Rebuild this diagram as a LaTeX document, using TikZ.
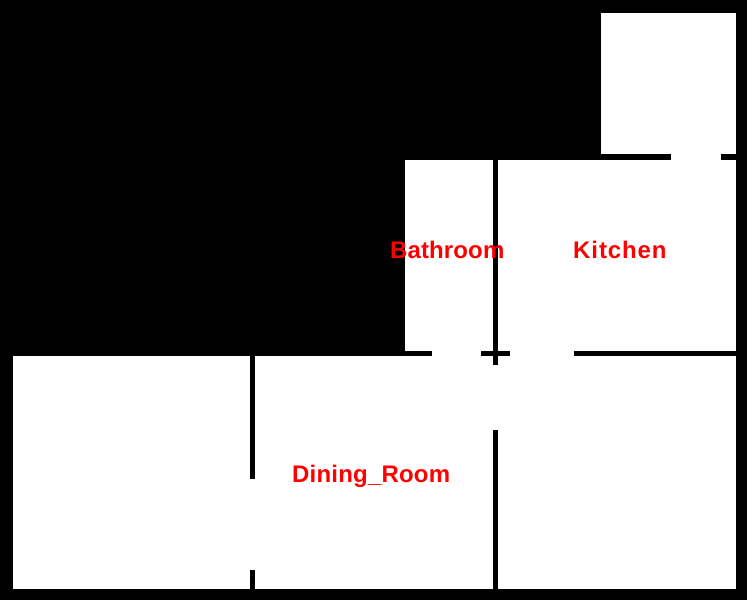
\documentclass[tikz,border=0pt]{standalone}
\usepackage{fontspec}
\setmainfont{Liberation Sans}
\definecolor{labelred}{RGB}{255,0,0}
\tikzset{
  room/.style={fill=white,draw=none},
  wall/.style={fill=black,draw=none},
  roomlabel/.style={text=labelred,inner sep=0pt,font=\fontsize{24}{24}\selectfont\bfseries,anchor=base west}
}
\begin{document}
\begin{tikzpicture}[x=1pt,y=-1pt]
\useasboundingbox (0,0) rectangle (747,600);
\fill[black] (0,0) rectangle (747,600);
% rooms
\path[room] (601,13) rectangle (736,154);
\path[room] (405,160) rectangle (736,351);
\path[room] (13,356) rectangle (736,589);
% door openings
\path[room] (671,154) rectangle (721,160);
\path[room] (432,351) rectangle (481,356);
\path[room] (510,351) rectangle (574,356);
% interior walls
\path[wall] (493,160) rectangle (498,365);
\path[wall] (493,430) rectangle (498,589);
\path[wall] (250,356) rectangle (255,479);
\path[wall] (250,570) rectangle (255,589);
% labels
\node[roomlabel] (bathroom) at (390,258) {\addfontfeature{LetterSpace=0.5}Bathroom};
\node[roomlabel] (kitchen) at (573,258) {\addfontfeature{LetterSpace=3.8}Kitchen};
\node[roomlabel] (dining) at (292,482) {\addfontfeature{LetterSpace=0.8}Dining\_Room};
\end{tikzpicture}
\end{document}
